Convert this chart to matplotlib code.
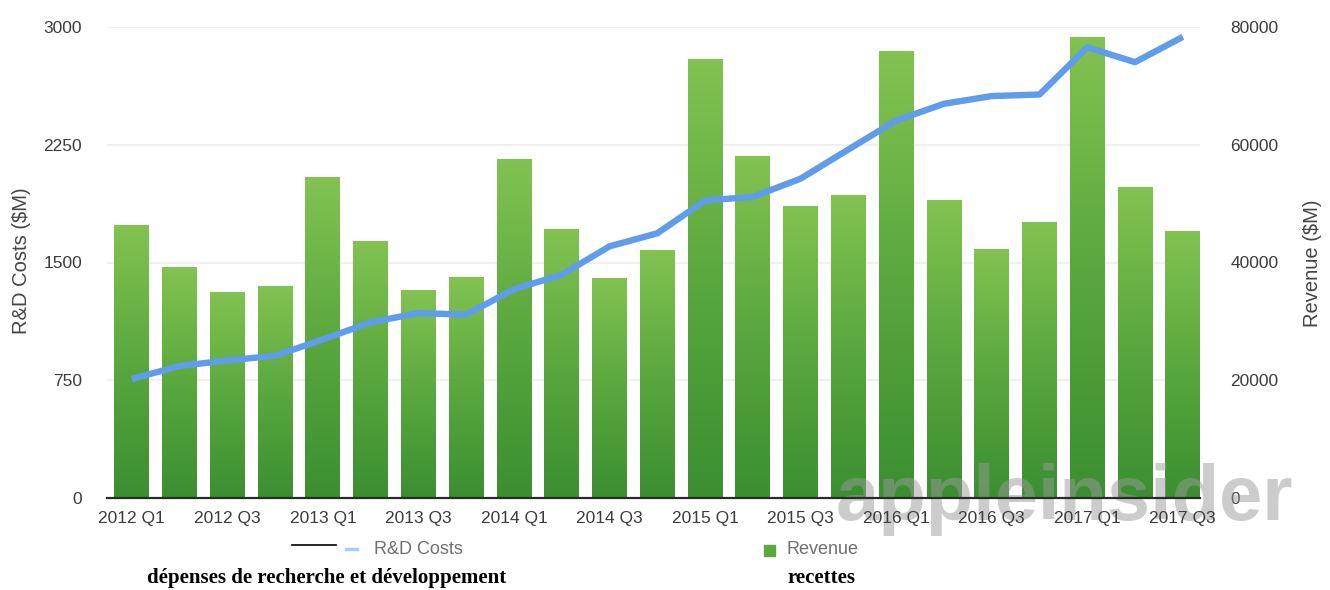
import matplotlib.pyplot as plt
import numpy as np
from matplotlib.colors import LinearSegmentedColormap
from matplotlib.lines import Line2D
from matplotlib.patches import Rectangle

# Apple quarterly figures ($M)
quarters = [
    "2012 Q1", "2012 Q2", "2012 Q3", "2012 Q4",
    "2013 Q1", "2013 Q2", "2013 Q3", "2013 Q4",
    "2014 Q1", "2014 Q2", "2014 Q3", "2014 Q4",
    "2015 Q1", "2015 Q2", "2015 Q3", "2015 Q4",
    "2016 Q1", "2016 Q2", "2016 Q3", "2016 Q4",
    "2017 Q1", "2017 Q2", "2017 Q3",
]
revenue = [46333, 39186, 35023, 35966, 54512, 43603, 35323, 37472,
           57594, 45646, 37432, 42123, 74599, 58010, 49605, 51501,
           75872, 50557, 42358, 46852, 78351, 52896, 45408]
rd_costs = [758, 841, 876, 906, 1010, 1119, 1178, 1168,
            1330, 1422, 1603, 1686, 1895, 1918, 2034, 2220,
            2404, 2511, 2560, 2570, 2871, 2776, 2937]
rd_ticks = [0, 750, 1500, 2250, 3000]
rev_ticks = [0, 20000, 40000, 60000, 80000]

W, H = 1330, 590
SANS = "Liberation Sans"
SERIF = "Liberation Serif"
TICK_C = "#3c3c3c"
BLUE = "#5f9cec"

fig = plt.figure(figsize=(W / 100, H / 100), dpi=100)
ax_rev = fig.add_axes([107 / W, 1 - 498 / H, (1200 - 107) / W, (498 - 27) / H])
ax_rd = ax_rev.twinx()

x = np.arange(len(quarters))

# bars with a vertical green gradient, drawn on the revenue axis
green = LinearSegmentedColormap.from_list("g", ["#3b8f31", "#5aa83e", "#82c351"])
bars = ax_rev.bar(x, revenue, width=0.73, color="none", edgecolor="none", zorder=2)
grad = np.linspace(0, 1, 256).reshape(-1, 1)
for b in bars:
    x0, w, h = b.get_x(), b.get_width(), b.get_height()
    im = ax_rev.imshow(grad, cmap=green, origin="lower", aspect="auto",
                       extent=[x0, x0 + w, 0, h], zorder=2)
    im.set_clip_path(b)

ax_rev.set_xlim(-0.52, 22.36)
ax_rev.set_ylim(0, 80000)
ax_rev.set_yticks(rev_ticks)
ax_rev.yaxis.tick_right()
ax_rev.grid(axis="y", color="#eeeeee", lw=1.2, zorder=0)
ax_rev.set_axisbelow(True)
ax_rev.set_xticks(x[::2])
ax_rev.set_xticklabels(quarters[::2])
ax_rev.xaxis.set_zorder(5)

# watermark sits over the bars but under the tick labels
ax_rev.text(836 / W, 1 - 520 / H, "appleinsider", transform=fig.transFigure,
            fontsize=56, fontweight="bold", family=SANS, color="#9a9a9a",
            alpha=0.5, ha="left", va="baseline", zorder=2.5, clip_on=False)

ax_rd.plot(x, rd_costs, color=BLUE, lw=4.6, solid_joinstyle="round",
           solid_capstyle="butt", zorder=3)
ax_rd.set_ylim(0, 3000)
ax_rd.set_yticks(rd_ticks)
ax_rd.yaxis.tick_left()

for a in (ax_rev, ax_rd):
    for s in a.spines.values():
        s.set_visible(False)
    a.tick_params(length=0, labelsize=12.5, labelcolor=TICK_C)
    for lab in a.get_xticklabels() + a.get_yticklabels():
        lab.set_fontfamily(SANS)
ax_rev.spines["bottom"].set_visible(True)
ax_rev.spines["bottom"].set_color("#2a2a2a")
ax_rev.spines["bottom"].set_linewidth(1.6)
ax_rev.tick_params(axis="x", pad=9)
ax_rev.tick_params(axis="y", pad=22)
ax_rd.tick_params(axis="y", pad=18)

fig.text(22 / W, 1 - 261 / H, "R&D Costs ($M)", rotation=90, ha="center",
         va="center", fontsize=14.5, color="#444444", family=SANS)
fig.text(1313 / W, 1 - 263 / H, "Revenue ($M)", rotation=90, ha="center",
         va="center", fontsize=14.5, color="#444444", family=SANS)

# legend row
fig.add_artist(Line2D([292 / W, 336 / W], [1 - 545 / H] * 2, color="black", lw=1.2))
fig.add_artist(Line2D([346 / W, 357 / W], [1 - 549 / H] * 2, color=BLUE, lw=2.5, alpha=0.5))
fig.text(374 / W, 1 - 550 / H, "R&D Costs", fontsize=13, color="#707070",
         family=SANS, va="center")
fig.add_artist(Rectangle((764 / W, 1 - 556 / H), 11 / W, 11 / H,
                         color="#5aa83e", transform=fig.transFigure))
fig.text(786 / W, 1 - 550 / H, "Revenue", fontsize=13, color="#707070",
         family=SANS, va="center")
fig.text(327 / W, 1 - 578 / H, "dépenses de recherche et développement",
         fontsize=15, fontweight="bold", family=SERIF, ha="center", va="center")
fig.text(822 / W, 1 - 578 / H, "recettes", fontsize=15, fontweight="bold",
         family=SERIF, ha="center", va="center")

fig.savefig("out.png", dpi=100)
